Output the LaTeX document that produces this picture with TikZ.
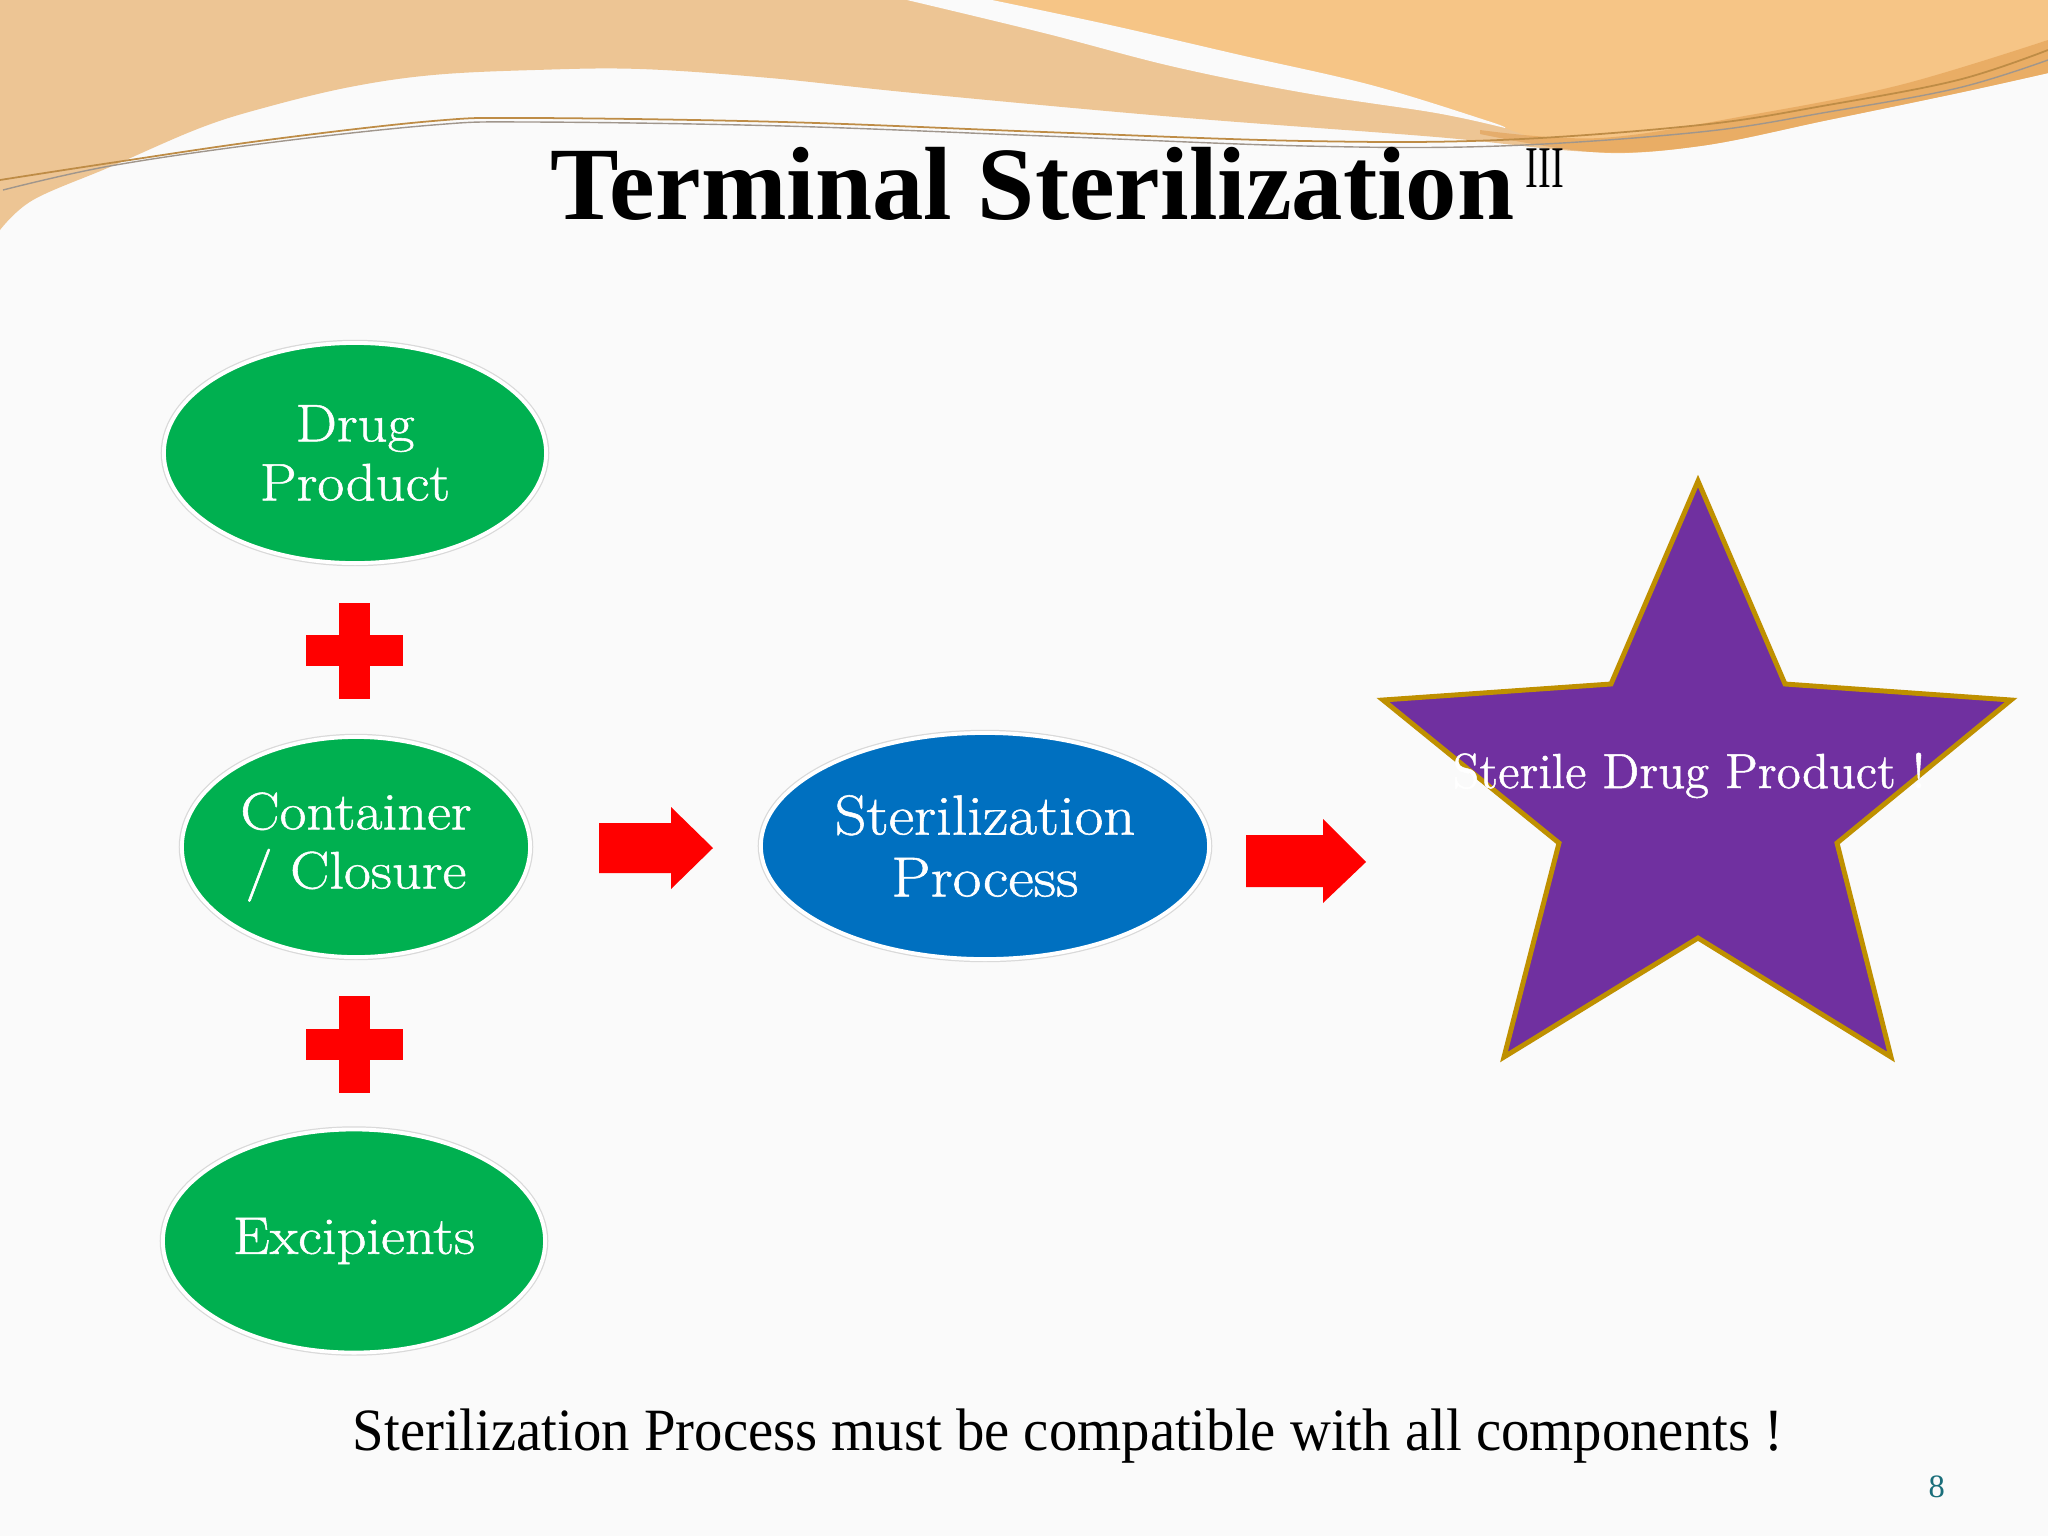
\documentclass[tikz,border=0pt]{standalone}
\usepackage{fontspec}
\newfontfamily\timesf{Liberation Serif}
\newfontfamily\ovalfont[FakeStretch=1.11, FakeBold=1]{Latin Modern Roman}
\newfontfamily\starfont[FakeBold=1]{Latin Modern Roman}
\usetikzlibrary{shapes.geometric}
\definecolor{bg}{RGB}{250,250,250}
\definecolor{peachL}{RGB}{237,197,148}
\definecolor{peachR}{RGB}{246,197,134}
\definecolor{ribbon}{RGB}{222,150,70}
\definecolor{lineA}{RGB}{190,140,70}
\definecolor{lineB}{RGB}{160,150,140}
\definecolor{pgreen}{RGB}{0,176,80}
\definecolor{pblue}{RGB}{0,112,192}
\definecolor{ppurple}{RGB}{112,48,160}
\definecolor{pgold}{RGB}{191,144,0}
\definecolor{pred}{RGB}{255,0,0}
\definecolor{pteal}{RGB}{26,110,122}
\tikzset{
  oval/.style={ellipse, inner sep=0pt, text=white, align=center, draw=white,
    line width=1.1pt, preaction={draw=black!15, line width=1.8pt}},
  greenoval/.style={oval, fill=pgreen, font=\ovalfont\fontsize{15}{16.8}\selectfont},
  blueoval/.style={oval, fill=pblue, font=\ovalfont\fontsize{16}{17.6}\selectfont},
  blockarrow/.style={fill=pred},
  plussign/.style={fill=pred},
  plain/.style={anchor=base west, inner sep=0pt},
}
\begin{document}
\begin{tikzpicture}[x=0.01cm,y=-0.01cm]
\useasboundingbox (0,0) rectangle (2048,1536);
\fill[bg] (0,0) rectangle (2048,1536);

% --- top banner ---
\fill[peachL] (0,0) -- (2048,0) -- plot[smooth, tension=0.6] coordinates {(2048,73) (1958,93) (1828,120) (1700,146) (1593,152) (1436,137) (1175,117) (914,93) (770,78) (640,69) (535,70) (433,75) (350,87) (267,107) (200,128) (110,167) (33,200) (0,230)} -- cycle;
\fill[peachR] (992,0) -- (2048,0) -- plot[smooth, tension=0.6] coordinates {(2048,73) (1958,93) (1828,120) (1700,146) (1593,152) (1505,128)} -- plot[smooth, tension=0.6] coordinates {(1505,128) (1488,121) (1371,85) (1240,55) (1110,25) (992,0)} -- cycle;
\fill[bg] plot[smooth, tension=0.6] coordinates {(907,0) (1044,33) (1175,67) (1305,93) (1436,113) (1505,128)} -- plot[smooth, tension=0.6] coordinates {(1505,128) (1488,121) (1371,85) (1240,55) (1110,25) (992,0)} -- cycle;
\fill[ribbon, opacity=0.5] plot[smooth, tension=0.6] coordinates {(1480,130) (1600,138) (1750,115) (1900,85) (2048,40)} -- plot[smooth, tension=0.6] coordinates {(2048,73) (1958,93) (1828,120) (1700,146) (1593,152) (1480,134)} -- cycle;
\draw[lineA, line width=0.5pt] plot[smooth, tension=0.6] coordinates {(0,180) (110,163) (267,140) (433,121) (530,118) (783,122) (1044,132) (1305,141) (1500,140) (1700,125) (1828,105) (1958,80) (2048,50)};
\draw[lineB, line width=0.4pt] plot[smooth, tension=0.6] coordinates {(3,190) (110,166) (267,143) (433,125) (530,122) (783,126) (1044,136) (1305,146) (1500,146) (1700,132) (1828,112) (1958,88) (2048,60)};

% --- title ---
\node[plain, font=\timesf\bfseries\fontsize{29.6}{32}\selectfont] (title) at (550,219) {\scalebox{0.987}[1]{Terminal Sterilization}};
\node[plain, font=\timesf\fontsize{16.8}{18}\selectfont] (titlesup) at (1525,187) {\scalebox{0.65}[1]{III}};

% --- left column ---
\node[greenoval, minimum width=3.82cm, minimum height=2.20cm] (drug) at (355,453) {Drug\\Product};
\node[greenoval, minimum width=3.48cm, minimum height=2.20cm] (container) at (356,847) {Container\\/ Closure};
\node[greenoval, minimum width=3.82cm, minimum height=2.23cm] (excip) at (354,1241) {Excipients};

\fill[plussign] (339,603) rectangle (370,699);
\fill[plussign] (306,635) rectangle (403,666);
\fill[plussign] (339,996) rectangle (370,1093);
\fill[plussign] (306,1029) rectangle (403,1060);

% --- arrows and process ---
\fill[blockarrow] (599,823) -- (671,823) -- (671,807) -- (713,848) -- (671,889) -- (671,873) -- (599,873) -- cycle;
\node[blueoval, minimum width=4.48cm, minimum height=2.26cm] (process) at (985,846) {Sterilization\\Process};
\fill[blockarrow] (1246,835) -- (1323,835) -- (1323,819) -- (1366,862) -- (1323,903) -- (1323,887) -- (1246,887) -- cycle;

% --- star ---
\draw[pgold, line width=1.4pt, fill=ppurple] (1698,481) -- (1785,684) -- (2011,700) -- (1837,843) -- (1891,1057) -- (1698,938) -- (1504,1057) -- (1559,843) -- (1383,700) -- (1611,684) -- cycle;
\node[anchor=base, inner sep=0pt, text=white, font=\starfont\fontsize{14}{16}\selectfont] (startext) at (1689,788) {Sterile Drug Product !};

% --- bottom text ---
\node[plain, font=\timesf\fontsize{17.07}{19}\selectfont] (note) at (352,1450) {\scalebox{0.945}[1]{Sterilization Process must be compatible with all components !}};
\node[plain, text=pteal, font=\timesf\fontsize{9.25}{10}\selectfont] (pagenum) at (1928,1497) {8};
\end{tikzpicture}
\end{document}
